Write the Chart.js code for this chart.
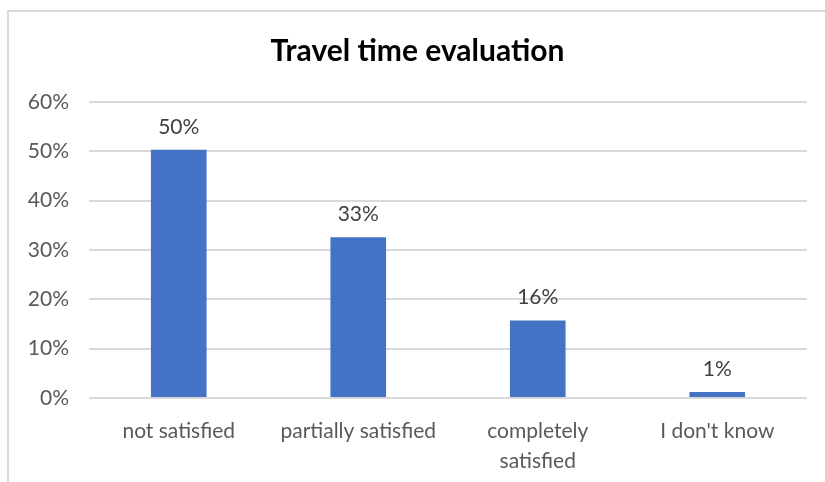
<!DOCTYPE html>
<html>
<head>
<meta charset="utf-8">
<script src="https://cdn.jsdelivr.net/npm/chart.js@4"></script>
<style>
    html, body { margin: 0; padding: 0; background: #fff; }
    .frame { position: absolute; left: 0; top: 0; width: 825px; height: 482px; }
    .border { position: absolute; left: 7px; top: 10px; right: -2px; bottom: -2px;
              border-left: 2px solid #d9d9d9; border-top: 2px solid #d9d9d9; }
</style>
</head>
<body>
<div class="frame">
    <div class="border"></div>
    <canvas id="travelChart" width="825" height="482"></canvas>
</div>
<script>
const categories = ['not satisfied', 'partially satisfied', ['completely', 'satisfied'], "I don't know"];
const shares = [50.3, 32.6, 15.7, 1.2];
const shareLabels = ['50%', '33%', '16%', '1%'];

const chartCtx = document.getElementById('travelChart').getContext('2d');
const fontName = "Lato, 'Open Sans', sans-serif";

// draws the value above each bar
const barLabels = {
    id: 'barLabels',
    afterDatasetsDraw(chart) {
        const ctx = chart.ctx;
        const meta = chart.getDatasetMeta(0);
        ctx.save();
        ctx.font = '21px ' + fontName;
        ctx.fillStyle = '#404040';
        ctx.textAlign = 'center';
        ctx.textBaseline = 'middle';
        meta.data.forEach((bar, i) => {
            ctx.fillText(shareLabels[i], bar.x, bar.y - 23);
        });
        ctx.restore();
    }
};

const travelChart = new Chart(chartCtx, {
    type: 'bar',
    data: {
        labels: categories,
        datasets: [{
            data: shares,
            backgroundColor: '#4472C4',
            borderWidth: 0,
            barPercentage: 0.31,
            categoryPercentage: 1
        }]
    },
    options: {
        responsive: false,
        animation: false,
        layout: { padding: { left: 28, right: 18, top: 0, bottom: 0 } },
        plugins: {
            legend: { display: false },
            tooltip: { enabled: false },
            title: {
                display: true,
                text: 'Travel time evaluation',
                color: '#000',
                font: { family: fontName, size: 30, weight: 'bold', lineHeight: 1.2 },
                padding: { top: 33, bottom: 33 }
            }
        },
        scales: {
            x: {
                grid: { display: false },
                border: { display: false },
                ticks: {
                    color: '#595959',
                    font: { family: fontName, size: 21, lineHeight: 1.4 },
                    maxRotation: 0,
                    padding: 11
                },
                afterFit(scale) { scale.height = 84; }
            },
            y: {
                min: 0,
                max: 60,
                ticks: {
                    stepSize: 10,
                    color: '#595959',
                    font: { family: fontName, size: 21 },
                    padding: 20,
                    callback: (v) => v + '%'
                },
                grid: { color: '#d9d9d9', lineWidth: 2, drawTicks: false },
                border: { display: false },
                afterFit(scale) { scale.width = 61; }
            }
        }
    },
    plugins: [barLabels]
});
</script>
</body>
</html>
